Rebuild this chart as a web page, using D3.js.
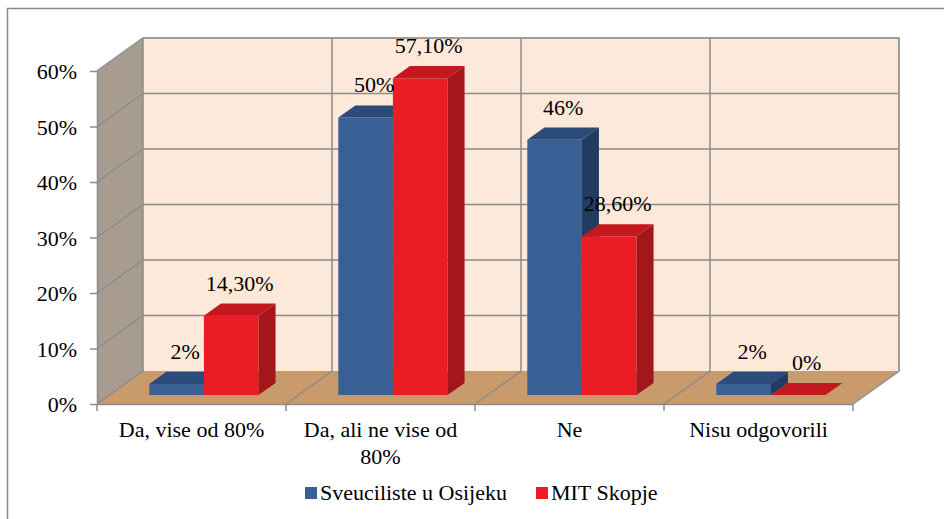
<!DOCTYPE html>
<html lang="hr">
<head>
    <meta charset="UTF-8">
    <title>Sveuciliste u Osijeku / MIT Skopje</title>
    <script src="https://d3js.org/d3.v7.min.js"></script>
    <style>
        body {
            margin: 0;
            background: #fff;
        }
        svg {
            display: block;
            font-family: "Liberation Serif", "Times New Roman", serif;
        }
        .lbl {
            font-family: "Liberation Serif", "Times New Roman", serif;
            font-size: 22px;
            fill: #000;
        }
    </style>
</head>
<body>
    <div id="chart"></div>
    <script>
        // podaci
        const categories = ["Da, vise od 80%", "Da, ali ne vise od 80%", "Ne", "Nisu odgovorili"];
        const seriesNames = ["Sveuciliste u Osijeku", "MIT Skopje"];
        const osijekValues = [0.02, 0.50, 0.46, 0.02];
        const skopjeValues = [0.143, 0.571, 0.286, 0];
        const osijekLabels = ["2%", "50%", "46%", "2%"];
        const skopjeLabels = ["14,30%", "57,10%", "28,60%", "0%"];
        const yTicks = [0, 0.1, 0.2, 0.3, 0.4, 0.5, 0.6];

        const width = 944;
        const height = 519;

        // 3D izgled (kosa projekcija)
        const depthX = 46, depthY = -33;
        const barFront = 0.27, barBack = 0.64;

        const faceColors = {
            "Sveuciliste u Osijeku": { front: "#3a5f94", top: "#2c4b7a", side: "#223b62", key: "#3a5f94" },
            "MIT Skopje": { front: "#ec1c24", top: "#c4181f", side: "#a3161b", key: "#ec1c24" }
        };

        const svg = d3.select("#chart").append("svg")
            .attr("width", width)
            .attr("height", height);

        svg.append("rect")
            .attr("x", 7.5).attr("y", 8.5)
            .attr("width", 1000).attr("height", 600)
            .attr("fill", "#fff")
            .attr("stroke", "#8a8a8a")
            .attr("stroke-width", 1.5);

        const x = d3.scaleBand().domain(categories).range([97, 853]);
        const xs = d3.scaleBand().domain(seriesNames)
            .range([0, x.bandwidth()])
            .paddingInner(0)
            .paddingOuter(0.73);
        const y = d3.scaleLinear().domain([0, 0.6]).range([404, 71]);

        // tocka u prostoru -> ekran
        const pt = (px, v, f) => [px + depthX * f, y(v) + depthY * f];
        const poly = pts => pts.map(p => p.join(",")).join(" ");

        const x0 = x.range()[0], x1 = x.range()[1];
        const vMax = y.domain()[1];
        const gridColor = "#8c8c8c";

        // zidovi i pod
        svg.append("polygon")
            .attr("points", poly([pt(x0, 0, 0), pt(x0, 0, 1), pt(x0, vMax, 1), pt(x0, vMax, 0)]))
            .attr("fill", "#a89b90");
        svg.append("polygon")
            .attr("points", poly([pt(x0, 0, 1), pt(x1, 0, 1), pt(x1, vMax, 1), pt(x0, vMax, 1)]))
            .attr("fill", "#fde9d9");
        svg.append("polygon")
            .attr("points", poly([pt(x0, 0, 0), pt(x1, 0, 0), pt(x1, 0, 1), pt(x0, 0, 1)]))
            .attr("fill", "#c99a6c");

        // mreza
        const grid = svg.append("g")
            .attr("stroke", gridColor)
            .attr("stroke-width", 1.5)
            .attr("fill", "none");

        yTicks.filter(v => v > 0).forEach(v => {
            grid.append("polyline")
                .attr("points", poly([pt(x0, v, 0), pt(x0, v, 1), pt(x1, v, 1)]));
        });

        const bounds = categories.map(c => x(c)).concat([x1]);
        bounds.forEach(b => {
            grid.append("polyline")
                .attr("points", poly([pt(b, 0, 0), pt(b, 0, 1), pt(b, vMax, 1)]));
        });
        grid.append("polyline")
            .attr("points", poly([pt(x0, vMax, 0), pt(x0, vMax, 1), pt(x1, vMax, 1), pt(x1, 0, 1), pt(x1, 0, 0)]))
            .attr("stroke", "#9a9a9a");

        // stupci
        const series = [
            { name: seriesNames[0], values: osijekValues, labels: osijekLabels },
            { name: seriesNames[1], values: skopjeValues, labels: skopjeLabels }
        ];

        const bars = svg.append("g");
        categories.forEach((c, i) => {
            series.forEach(s => {
                const v = s.values[i];
                const bx0 = x(c) + xs(s.name);
                const bx1 = bx0 + xs.bandwidth();
                const col = faceColors[s.name];
                const g = bars.append("g");
                if (v > 0) {
                    g.append("polygon")
                        .attr("points", poly([pt(bx0, 0, barFront), pt(bx1, 0, barFront), pt(bx1, v, barFront), pt(bx0, v, barFront)]))
                        .attr("fill", col.front);
                }
                g.append("polygon")
                    .attr("points", poly([pt(bx0, v, barFront), pt(bx1, v, barFront), pt(bx1, v, barBack), pt(bx0, v, barBack)]))
                    .attr("fill", col.top);
                if (v > 0) {
                    g.append("polygon")
                        .attr("points", poly([pt(bx1, 0, barFront), pt(bx1, 0, barBack), pt(bx1, v, barBack), pt(bx1, v, barFront)]))
                        .attr("fill", col.side);
                }
            });
        });

        // oznake vrijednosti
        categories.forEach((c, i) => {
            series.forEach(s => {
                const v = s.values[i];
                const cx = x(c) + xs(s.name) + xs.bandwidth() / 2 + depthX * (barFront + barBack) / 2;
                const cy = y(v) + depthY * barBack - 13;
                svg.append("text")
                    .attr("class", "lbl")
                    .attr("x", cx)
                    .attr("y", cy)
                    .attr("text-anchor", "middle")
                    .text(s.labels[i]);
            });
        });

        // y os
        const yAxis = svg.append("g")
            .attr("transform", `translate(${x0},0)`)
            .call(d3.axisLeft(y)
                .tickValues(yTicks)
                .tickFormat(d3.format(".0%"))
                .tickSize(7)
                .tickSizeOuter(0)
                .tickPadding(13));
        yAxis.attr("font-family", null).attr("font-size", null);
        yAxis.selectAll("path, line").attr("stroke", gridColor).attr("stroke-width", 1.5);
        yAxis.selectAll("text")
            .attr("class", "lbl")
            .attr("dy", "0.36em");

        // x os
        const xAxis = svg.append("g")
            .attr("transform", `translate(0,${y(0)})`)
            .call(d3.axisBottom(x).tickSize(0).tickSizeOuter(0).tickPadding(0));
        xAxis.attr("font-family", null).attr("font-size", null);
        xAxis.select(".domain").attr("stroke", gridColor).attr("stroke-width", 1.5);
        xAxis.selectAll("text")
            .attr("class", "lbl")
            .attr("y", 33)
            .attr("dy", 0)
            .call(wrap, 180);

        bounds.forEach(b => {
            xAxis.append("line")
                .attr("x1", b).attr("x2", b)
                .attr("y1", 0).attr("y2", 7)
                .attr("stroke", gridColor)
                .attr("stroke-width", 1.5);
        });

        function wrap(texts, w) {
            texts.each(function () {
                const text = d3.select(this);
                const words = text.text().split(/\s+/);
                const ty = text.attr("y");
                let line = [];
                let lineNo = 0;
                text.text(null);
                let tspan = text.append("tspan").attr("x", 0).attr("y", ty);
                words.forEach(word => {
                    line.push(word);
                    tspan.text(line.join(" "));
                    if (tspan.node().getComputedTextLength() > w && line.length > 1) {
                        line.pop();
                        tspan.text(line.join(" "));
                        line = [word];
                        lineNo++;
                        tspan = text.append("tspan")
                            .attr("x", 0)
                            .attr("y", +ty + lineNo * 27)
                            .text(word);
                    }
                });
            });
        }

        // legenda
        const legend = svg.append("g").attr("transform", "translate(305,487)");
        let lx = 0;
        seriesNames.forEach(name => {
            const item = legend.append("g").attr("transform", `translate(${lx},0)`);
            item.append("rect")
                .attr("width", 12).attr("height", 12)
                .attr("fill", faceColors[name].key);
            const t = item.append("text")
                .attr("class", "lbl")
                .attr("x", 15)
                .attr("y", 13)
                .text(name);
            lx += 15 + t.node().getComputedTextLength() + 29;
        });
    </script>
</body>
</html>
